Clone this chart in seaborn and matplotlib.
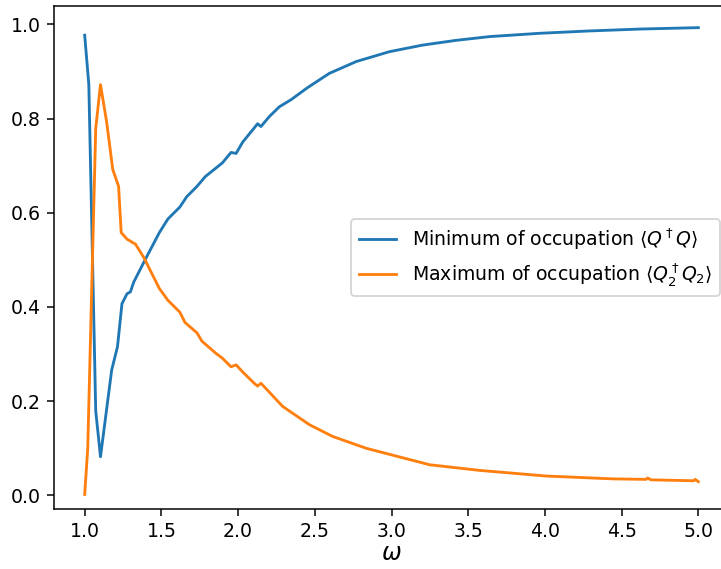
import pandas as pd
import seaborn as sns
import matplotlib
matplotlib.use("Agg")
import matplotlib.pyplot as plt

# minimum of <Q^dagger Q>
omega_min = [1.0, 1.027, 1.072, 1.103, 1.176, 1.214, 1.243, 1.276, 1.298, 1.32,
             1.40, 1.487, 1.543, 1.62, 1.665, 1.732, 1.787, 1.898, 1.954, 1.987,
             2.03, 2.105, 2.127, 2.149, 2.203, 2.269, 2.345, 2.45, 2.595, 2.77,
             2.987, 3.204, 3.42, 3.64, 3.966, 4.29, 4.62, 5.0]
occ_min = [0.977, 0.872, 0.179, 0.082, 0.266, 0.316, 0.407, 0.428, 0.432, 0.453,
           0.504, 0.558, 0.587, 0.612, 0.634, 0.656, 0.677, 0.706, 0.728, 0.726,
           0.750, 0.780, 0.789, 0.783, 0.804, 0.825, 0.840, 0.865, 0.896, 0.921,
           0.942, 0.956, 0.966, 0.974, 0.981, 0.986, 0.990, 0.993]

# maximum of <Q2^dagger Q2>
omega_max = [1.0, 1.02, 1.072, 1.103, 1.143, 1.183, 1.221, 1.238, 1.276, 1.332,
             1.387, 1.487, 1.543, 1.62, 1.654, 1.732, 1.765, 1.854, 1.898, 1.954,
             1.987, 2.03, 2.105, 2.127, 2.149, 2.29, 2.465, 2.617, 2.835, 3.248,
             3.575, 4.01, 4.445, 4.66, 4.67, 4.69, 4.97, 4.98, 5.0]
occ_max = [0.002, 0.100, 0.779, 0.872, 0.793, 0.692, 0.656, 0.558, 0.544, 0.533,
           0.504, 0.439, 0.414, 0.389, 0.367, 0.345, 0.327, 0.302, 0.291, 0.273,
           0.277, 0.262, 0.238, 0.232, 0.238, 0.189, 0.150, 0.125, 0.100, 0.065,
           0.053, 0.041, 0.035, 0.034, 0.037, 0.033, 0.031, 0.034, 0.029]

label_min = r"Minimum of occupation $\langle Q^\dagger Q\rangle$"
label_max = r"Maximum of occupation $\langle Q_2^\dagger Q_2\rangle$"

DPI = 136
fig = plt.figure(figsize=(721 / DPI, 569 / DPI), dpi=DPI)
# the reference is cropped on the right, so the axes run past the figure edge
ax = fig.add_axes([0.0749, 0.1054, 0.9362, 0.8841])

sns.lineplot(x=omega_min, y=occ_min, ax=ax, color="#1f77b4",
             label=label_min, estimator=None)
sns.lineplot(x=omega_max, y=occ_max, ax=ax, color="#ff7f0e",
             label=label_max, estimator=None)

ax.set_ylim(-0.029, 1.039)
ax.set_xticks([1.0, 1.5, 2.0, 2.5, 3.0, 3.5, 4.0, 4.5, 5.0])
ax.set_xlabel(r"$\omega$", fontsize=12.5, labelpad=0)
ax.legend(loc="center right")

fig.savefig("out.png", dpi=DPI)
